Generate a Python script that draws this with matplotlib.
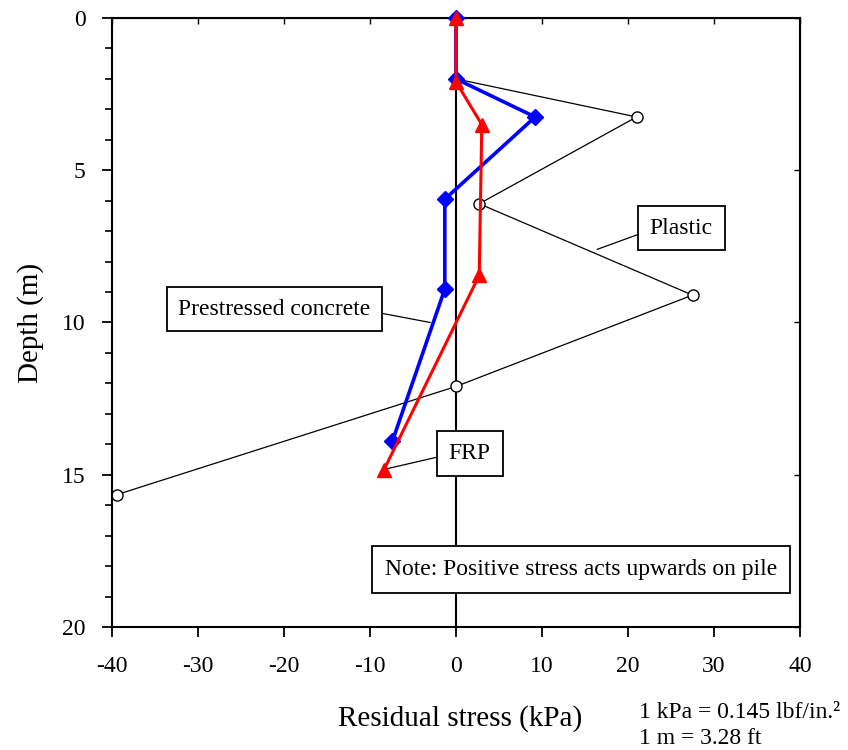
import matplotlib
matplotlib.use("Agg")
import matplotlib.pyplot as plt
from matplotlib.ticker import MultipleLocator

plt.rcParams['font.family'] = ['Liberation Serif', 'DejaVu Serif']

# Data (stress in kPa, depth in m)
plastic_stress = [0, 0, 21.0, 2.7, 27.5, 0, -39.4]
plastic_depth = [0, 2.0, 3.25, 6.1, 9.1, 12.1, 15.65]

prestressed_stress = [0, 0, 9.2, -1.3, -1.3, -7.4]
prestressed_depth = [0, 2.0, 3.25, 5.95, 8.9, 13.9]

frp_stress = [0, 0, 3.0, 2.7, -8.4]
frp_depth = [0, 2.1, 3.5, 8.45, 14.85]

x_ticks = [-40, -30, -20, -10, 0, 10, 20, 30, 40]
y_ticks = [0, 5, 10, 15, 20]

fig = plt.figure(figsize=(8.48, 7.5), dpi=100)
ax = fig.add_axes([0.1321, 0.164, 0.8113, 0.812])

ax.set_xlim(-40, 40)
ax.set_ylim(20, 0)

ax.axvline(0, color='black', lw=1.5, zorder=1)

ax.plot(plastic_stress, plastic_depth, color='black', lw=0.9, marker='o',
        markersize=8, markerfacecolor='white', markeredgecolor='black',
        markeredgewidth=1.0, zorder=2, clip_on=False)
ax.plot(prestressed_stress, prestressed_depth, color='#0000ff', lw=2.6,
        marker='D', markersize=8.5, zorder=3, clip_on=False)
ax.plot(frp_stress, frp_depth, color='#ff0000', lw=2.2, marker='^',
        markersize=10, zorder=4, clip_on=False)

ax.set_xticks(x_ticks)
ax.set_yticks(y_ticks)
ax.set_xticklabels([str(v) for v in x_ticks])
ax.set_yticklabels([str(v) for v in y_ticks])
ax.yaxis.set_minor_locator(MultipleLocator(1))
ax.tick_params(axis='both', which='major', direction='out', length=7, width=1.3,
               labelsize=17)
ax.tick_params(axis='y', which='major', pad=12)
ax.tick_params(axis='y', which='minor', direction='out', length=5, width=1.2)
ax.tick_params(axis='x', which='major', pad=14)
for s in ax.spines.values():
    s.set_linewidth(1.5)

# inward ticks on top and right
ax_top = ax.secondary_xaxis('top')
ax_top.set_xticks(x_ticks)
ax_top.tick_params(direction='in', length=4, width=1.0)
ax_top.set_xticklabels([])
ax_right = ax.secondary_yaxis('right')
ax_right.set_yticks(y_ticks)
ax_right.tick_params(direction='in', length=4, width=1.0)
ax_right.set_yticklabels([])

box = dict(boxstyle='square,pad=0.5', facecolor='white', edgecolor='black', lw=1.3)

ax.annotate('Plastic', xy=(16.4, 7.6), xytext=(26.2, 6.9),
            fontsize=17, ha='center', va='center', bbox=box, zorder=6,
            arrowprops=dict(arrowstyle='-', color='black', lw=0.9,
                            shrinkA=0, shrinkB=0, relpos=(0, 0.4)))
ax.annotate('Prestressed concrete', xy=(-3.0, 10.0), xytext=(-21.1, 9.56),
            fontsize=17, ha='center', va='center', bbox=box, zorder=6,
            arrowprops=dict(arrowstyle='-', color='black', lw=0.9,
                            shrinkA=0, shrinkB=0, relpos=(1, 0.4)))
ax.annotate('FRP', xy=(-8.0, 14.8), xytext=(1.6, 14.3),
            fontsize=17, ha='center', va='center', bbox=box, zorder=6,
            arrowprops=dict(arrowstyle='-', color='black', lw=0.9,
                            shrinkA=0, shrinkB=0, relpos=(0, 0.45)))
ax.text(14.5, 18.1, 'Note: Positive stress acts upwards on pile', fontsize=17,
        ha='center', va='center', bbox=dict(boxstyle='square,pad=0.55', facecolor='white',
                                            edgecolor='black', lw=1.3), zorder=6)

ax.set_ylabel('Depth (m)', fontsize=21, labelpad=13)
fig.text(0.543, 0.042, 'Residual stress (kPa)', fontsize=21, ha='center', va='center')
fig.text(0.754, 0.050, '1 kPa = 0.145 lbf/in.\u00b2', fontsize=17, ha='left', va='center')
fig.text(0.754, 0.016, '1 m = 3.28 ft', fontsize=17, ha='left', va='center')

fig.savefig('out.png', dpi=100)
